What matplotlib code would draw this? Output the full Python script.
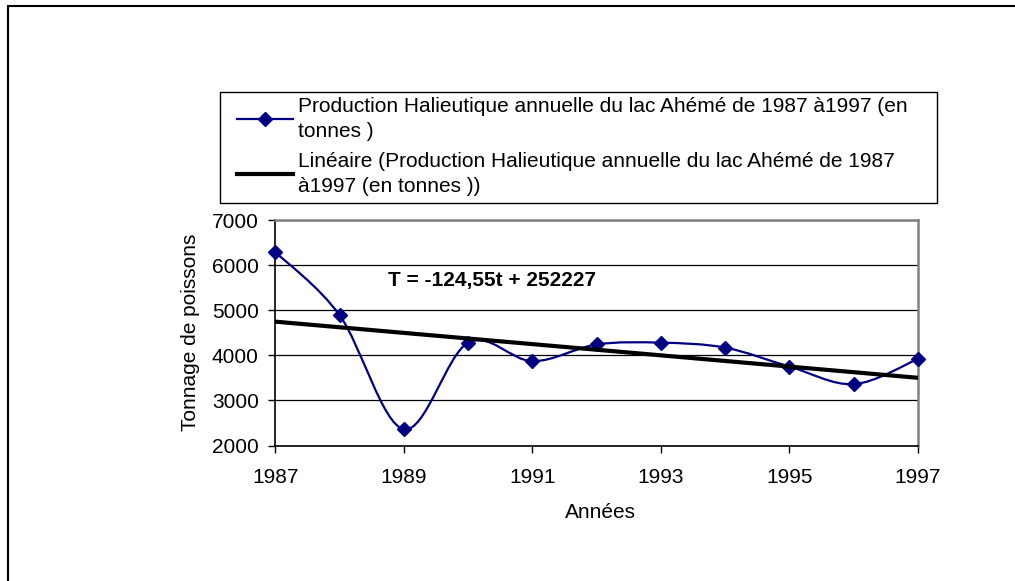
import numpy as np
import matplotlib.pyplot as plt
from matplotlib.path import Path
from matplotlib.patches import PathPatch, Rectangle
from matplotlib.lines import Line2D

plt.rcParams['font.family'] = ['Liberation Sans', 'DejaVu Sans']

# Data
years = [1987, 1988, 1989, 1990, 1991, 1992, 1993, 1994, 1995, 1996, 1997]
tonnage = [6290, 4890, 2360, 4280, 3870, 4240, 4280, 4170, 3750, 3360, 3920]
slope = -124.55
intercept = 252227
y_ticks = [2000, 3000, 4000, 5000, 6000, 7000]
x_ticks = [1987, 1989, 1991, 1993, 1995, 1997]

navy = '#000080'
fs = 15

fig = plt.figure(figsize=(10.15, 5.81), dpi=100)
ax = fig.add_axes([275.3 / 1015, 1 - 445.5 / 581, 642.7 / 1015, 225.5 / 581])

# smoothed line (Catmull-Rom style bezier, like Excel's smoothed line)
pts = np.column_stack([years, tonnage]).astype(float)
ext = np.vstack([pts[0], pts, pts[-1]])
verts = [tuple(pts[0])]
codes = [Path.MOVETO]
for i in range(1, len(ext) - 2):
    p0, p1, p2, p3 = ext[i - 1], ext[i], ext[i + 1], ext[i + 2]
    c1 = p1 + (p2 - p0) / 6
    c2 = p2 - (p3 - p1) / 6
    verts += [tuple(c1), tuple(c2), tuple(p2)]
    codes += [Path.CURVE4] * 3
curve = PathPatch(Path(verts, codes), facecolor='none', edgecolor=navy,
                  lw=1.6, transform=ax.transData, zorder=3)
ax.add_patch(curve)

ax.plot(years, tonnage, linestyle='none', marker='D', markersize=7.5,
        color=navy, zorder=4, clip_on=False)

trend_x = np.array([years[0], years[-1]])
ax.plot(trend_x, slope * trend_x + intercept, color='black', lw=3, zorder=5)

ax.set_xlim(1987, 1997)
ax.set_ylim(2000, 7000)
ax.set_xticks(x_ticks)
ax.set_yticks(y_ticks)
ax.tick_params(axis='both', direction='out', length=5, width=1, labelsize=fs)
ax.tick_params(axis='y', pad=6.9)
ax.tick_params(axis='x', pad=11)
ax.yaxis.grid(True, color='black', lw=0.9)
ax.set_axisbelow(True)
for s in ['top', 'right']:
    ax.spines[s].set_color('#808080')
    ax.spines[s].set_linewidth(1.8)
for s in ['left', 'bottom']:
    ax.spines[s].set_color('black')
    ax.spines[s].set_linewidth(1.2)

ax.text(1988.75, 5650, 'T = -124,55t + 252227', fontsize=fs,
        fontweight='bold', ha='left', va='center')

fig.text(190 / 1015, 1 - 332.75 / 581, 'Tonnage de poissons', rotation=90,
         ha='center', va='center', fontsize=fs)
fig.text(600 / 1015, 1 - 512 / 581, 'Années', ha='center', va='center',
         fontsize=fs)

# legend box
fig.add_artist(Rectangle((220 / 1015, 1 - 203 / 581), 717 / 1015, 111 / 581,
                         transform=fig.transFigure, facecolor='white',
                         edgecolor='black', lw=1.0))
handles = [Line2D([], [], color=navy, lw=1.6, marker='D', markersize=7.5),
           Line2D([], [], color='black', lw=3)]
labels = ['Production Halieutique annuelle du lac Ahémé de 1987 à1997 (en\ntonnes )',
          'Linéaire (Production Halieutique annuelle du lac Ahémé de 1987\nà1997 (en tonnes ))']
leg = fig.legend(handles, labels, loc='upper left',
                 bbox_to_anchor=(232 / 1015, 1 - 92 / 581),
                 borderaxespad=0, frameon=False, fontsize=fs,
                 handlelength=2.7, handletextpad=0.2, borderpad=0.25,
                 labelspacing=0.54)
for t in leg.get_texts():
    t.set_linespacing(1.37)

# outer chart border (runs off the right and bottom edge)
fig.add_artist(Rectangle((8 / 1015, -0.1), 1.1, 1 - 6 / 581 + 0.1,
                         transform=fig.transFigure, fill=False,
                         edgecolor='black', lw=1.5))

fig.savefig('out.png', dpi=100)
